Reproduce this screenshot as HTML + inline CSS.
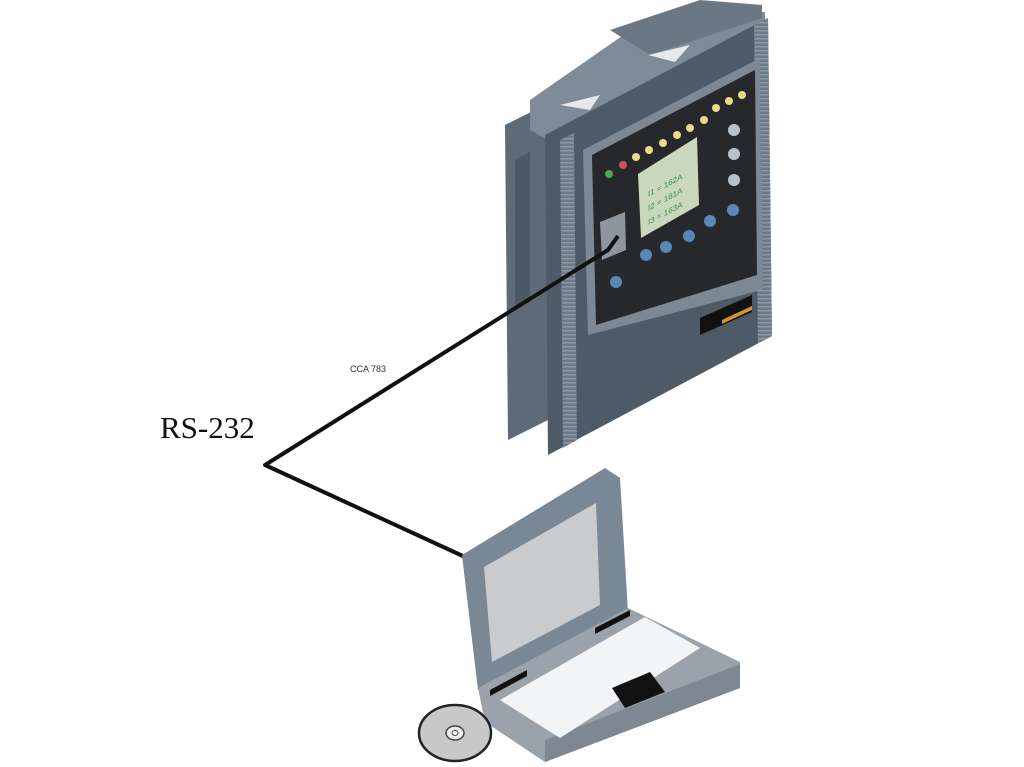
<!DOCTYPE html>
<html><head><meta charset="utf-8"><style>
html,body{margin:0;padding:0;background:#fff;width:1024px;height:767px;overflow:hidden}
svg{display:block}
</style></head><body>
<svg width="1024" height="767" viewBox="0 0 1024 767" xmlns="http://www.w3.org/2000/svg">
<defs>
<pattern id="rib" width="6" height="4" patternUnits="userSpaceOnUse"><rect width="6" height="4" fill="#6d7a86"/><rect y="2" width="6" height="1.5" fill="#8c99a4"/></pattern>
</defs>
<!-- device back / housing -->
<polygon points="505,125 545,105 548,420 508,440" fill="#5e6a76"/>
<polygon points="515,160 530,152 530,300 515,308" fill="#4c5863"/>
<polygon points="530,100 645,20 700,10 765,12 765,30 548,140 530,130" fill="#7f8b96"/>
<polygon points="610,30 700,0 762,5 762,18 650,55" fill="#6b7783"/>
<polygon points="560,105 600,95 590,110" fill="#e6e9ec"/>
<polygon points="648,55 690,45 675,62" fill="#e6e9ec"/>
<!-- front face -->
<polygon points="545,135 768,18 772,336 548,455" fill="#4e5a66"/>
<polygon points="560,140 574,133 577,440 563,448" fill="url(#rib)"/>
<polygon points="754,25 768,18 772,336 758,343" fill="url(#rib)"/>
<!-- panel frame -->
<polygon points="583,150 760,58 762,290 588,335" fill="#7c8893"/>
<polygon points="592,155 755,70 757,275 596,325" fill="#26282b"/>
<!-- LCD -->
<polygon points="638,174 697,137 699,205 641,238" fill="#c9d8bd"/>
<text font-family="Liberation Sans,sans-serif" font-size="8" fill="#3f8a4a" transform="translate(648,197) skewY(-28)">I1 =  162A</text>
<text font-family="Liberation Sans,sans-serif" font-size="8" fill="#3f8a4a" transform="translate(648,211) skewY(-28)">I2 =  161A</text>
<text font-family="Liberation Sans,sans-serif" font-size="8" fill="#3f8a4a" transform="translate(648,225) skewY(-28)">I3 =  163A</text>
<!-- LEDs -->
<circle cx="609" cy="174" r="4" fill="#4fa65a"/>
<circle cx="623" cy="165" r="4" fill="#c9555c"/>
<g fill="#e6dc8c">
<circle cx="636" cy="157" r="4"/><circle cx="649" cy="150" r="4"/><circle cx="663" cy="143" r="4"/><circle cx="677" cy="135" r="4"/><circle cx="690" cy="128" r="4"/><circle cx="704" cy="120" r="4"/><circle cx="716" cy="108" r="4"/><circle cx="729" cy="101" r="4"/><circle cx="742" cy="95" r="4"/>
</g>
<!-- buttons -->
<g fill="#b8c2cc"><circle cx="734" cy="130" r="6"/><circle cx="734" cy="154" r="6"/><circle cx="734" cy="180" r="6"/></g>
<g fill="#5a86b8"><circle cx="733" cy="210" r="6"/><circle cx="710" cy="221" r="6"/><circle cx="689" cy="236" r="6"/><circle cx="666" cy="247" r="6"/><circle cx="646" cy="255" r="6"/><circle cx="616" cy="282" r="6"/></g>
<!-- port -->
<polygon points="600,222 625,212 626,250 602,260" fill="#8d969e"/>
<!-- logo -->
<polygon points="700,318 752,295 752,312 700,335" fill="#111"/>
<polygon points="722,320 752,306 752,310 722,324" fill="#d9912c"/>
<!-- cable -->
<polyline points="618,236 608,250 265,465 465,557" fill="none" stroke="#111" stroke-width="4" stroke-linejoin="round"/>
<text x="350" y="372" font-family="Liberation Sans,sans-serif" font-size="9" fill="#333">CCA 783</text>
<text x="160" y="438" font-family="Liberation Serif,serif" font-size="31" fill="#111">RS-232</text>
<!-- laptop lid -->
<polygon points="462,555 605,468 620,478 628,612 488,692 478,690" fill="#7a8794"/>
<polygon points="484,567 596,503 600,605 492,662" fill="#c9cbcc"/>
<!-- laptop base -->
<polygon points="478,688 628,608 740,662 740,688 545,762 485,722" fill="#9aa3ab"/>
<polygon points="545,740 740,664 740,688 545,762" fill="#7e8893"/>
<polygon points="500,700 645,617 700,648 560,738" fill="#f3f4f5"/>
<polygon points="612,688 650,672 665,692 625,708" fill="#111"/>
<polygon points="490,690 527,670 527,676 490,696" fill="#111"/>
<polygon points="595,628 630,610 630,616 595,634" fill="#111"/>
<!-- CD -->
<ellipse cx="455" cy="733" rx="36" ry="28" fill="#c8c8c8" stroke="#222" stroke-width="2.5"/>
<ellipse cx="455" cy="733" rx="9" ry="7" fill="#eee" stroke="#444" stroke-width="1.5"/>
<ellipse cx="455" cy="733" rx="3" ry="2.5" fill="#fff" stroke="#444"/>
</svg>
</body></html>
